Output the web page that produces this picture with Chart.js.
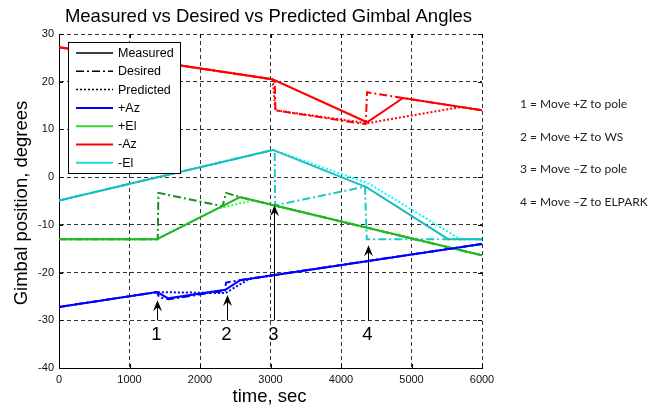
<!DOCTYPE html>
<html>
<head>
<meta charset="utf-8">
<title>Gimbal Angles</title>
<script src="https://cdn.jsdelivr.net/npm/chart.js@4.4.1/dist/chart.umd.min.js"></script>
<style>
  html, body { margin: 0; padding: 0; background: #fff; }
</style>
</head>
<body>
<canvas id="gimbalChart" width="651" height="408"></canvas>
<script>
// Gimbal traces as [time (s), angle (deg)] pairs
const plusAzMeasured  = [[0, -27.2], [1390, -24.1], [1550, -25.4], [2360, -23.6], [2570, -21.6], [6000, -14.0]];
const plusAzDesired   = [[0, -27.2], [1390, -24.1], [1420, -25.2], [1560, -25.6], [2350, -23.8], [2370, -22.1], [2600, -21.5], [6000, -14.0]];
const plusAzPredicted = [[0, -27.2], [1390, -24.1], [2360, -24.3], [2700, -21.3], [6000, -14.0]];

const plusElMeasured  = [[0, -13.0], [1390, -13.0], [2570, -4.2], [6000, -16.4]];
const plusElDesired   = [[0, -13.0], [1400, -13.0], [1410, -3.3], [2320, -6.1], [2370, -3.3], [2570, -4.2], [6000, -16.4]];
const plusElPredicted = [[0, -13.0], [1390, -13.0], [2250, -6.6], [2750, -4.85], [6000, -16.4]];

const minusAzMeasured  = [[0, 27.2], [3030, 20.5], [4370, 11.5], [4880, 16.6], [6000, 14.0]];
const minusAzDesired   = [[0, 27.2], [3030, 20.5], [3060, 20.3], [3070, 14.0], [4350, 11.1], [4370, 17.8], [4880, 16.6], [6000, 14.0]];
const minusAzPredicted = [[0, 27.2], [3030, 20.5], [3070, 14.0], [4370, 11.3], [5700, 14.7], [6000, 14.0]];

const minusElMeasured  = [[0, -4.9], [3035, 5.7], [4360, -2.1], [5520, -13.0], [6000, -13.0]];
const minusElDesired   = [[0, -4.9], [3035, 5.7], [3060, 5.5], [3065, -5.9], [4340, -2.0], [4365, -13.0], [6000, -13.0]];
const minusElPredicted = [[0, -4.9], [3035, 5.7], [4400, -1.4], [5690, -13.0], [6000, -13.0]];

// Event markers: arrow position, tip/tail angles, label
const eventTimes   = [1390, 2380, 3050, 4390];
const eventTipDeg  = [-25.8, -24.7, -5.9, -14.3];
const eventTailDeg = [-30, -30, -30, -30];
const eventLabelDeg = -33.1;
const eventLabels  = ['1', '2', '3', '4'];
const eventNotes   = ['1 = Move +Z to pole', '2 = Move +Z to WS', '3 = Move \u2013Z to pole', '4 = Move \u2013Z to ELPARK'];

const xTicks = [0, 1000, 2000, 3000, 4000, 5000, 6000];
const yTicks = [-40, -30, -20, -10, 0, 10, 20, 30];

const FONT = '"Liberation Sans", Arial, sans-serif';
const DASH = { solid: [], dashdot: [8, 3, 2, 3], dotted: [2, 2] };

const legendItems = [
  { text: 'Measured', color: '#000', dash: DASH.solid, width: 1.5 },
  { text: 'Desired', color: '#000', dash: DASH.dashdot, width: 1.5 },
  { text: 'Predicted', color: '#000', dash: DASH.dotted, width: 1.5 },
  { text: '+Az', color: '#0000ff', dash: DASH.solid, width: 2 },
  { text: '+El', color: '#33d633', dash: DASH.solid, width: 2 },
  { text: '-Az', color: '#ff0000', dash: DASH.solid, width: 2 },
  { text: '-El', color: '#1ed8d8', dash: DASH.solid, width: 2 }
];

function series(label, pts, color, style) {
  return {
    label: label,
    data: pts.map(p => ({ x: p[0], y: p[1] })),
    borderColor: color,
    backgroundColor: color,
    borderWidth: 2,
    borderDash: DASH[style],
    pointRadius: 0,
    tension: 0,
    fill: false
  };
}

// Title, axis labels, inward ticks, legend box, event arrows, notes
const decorations = {
  id: 'decorations',
  beforeDatasetsDraw(chart) {
    const { ctx, chartArea: ca, scales: { x, y } } = chart;
    ctx.save();
    ctx.strokeStyle = '#000';
    ctx.lineWidth = 1;
    ctx.beginPath();
    xTicks.forEach(t => {
      const px = Math.round(x.getPixelForValue(t)) + 0.5;
      ctx.moveTo(px, ca.bottom); ctx.lineTo(px, ca.bottom - 4);
      ctx.moveTo(px, ca.top); ctx.lineTo(px, ca.top + 4);
    });
    yTicks.forEach(v => {
      const py = Math.round(y.getPixelForValue(v)) + 0.5;
      ctx.moveTo(ca.left, py); ctx.lineTo(ca.left + 4, py);
      ctx.moveTo(ca.right, py); ctx.lineTo(ca.right - 4, py);
    });
    ctx.stroke();
    ctx.restore();
  },
  afterDatasetsDraw(chart) {
    const { ctx, chartArea: ca, scales: { x, y } } = chart;
    ctx.save();

    // event arrows
    ctx.strokeStyle = '#000';
    ctx.fillStyle = '#000';
    ctx.lineWidth = 1;
    eventTimes.forEach((t, i) => {
      const px = Math.round(x.getPixelForValue(t)) + 0.5;
      const tip = y.getPixelForValue(eventTipDeg[i]);
      const tail = y.getPixelForValue(eventTailDeg[i]);
      ctx.beginPath();
      ctx.moveTo(px, tip + 6);
      ctx.lineTo(px, tail);
      ctx.stroke();
      ctx.beginPath();
      ctx.moveTo(px, tip);
      ctx.lineTo(px - 4.5, tip + 11);
      ctx.lineTo(px, tip + 7);
      ctx.lineTo(px + 4.5, tip + 11);
      ctx.closePath();
      ctx.fill();
      ctx.font = '18.5px ' + FONT;
      ctx.textAlign = 'center';
      ctx.textBaseline = 'middle';
      ctx.fillText(eventLabels[i], px - 1, y.getPixelForValue(eventLabelDeg));
    });

    // legend box
    const lx = ca.left + 9, ly = ca.top + 8, lw = 112, lh = 131;
    ctx.fillStyle = '#fff';
    ctx.fillRect(lx, ly, lw, lh);
    ctx.strokeStyle = '#000';
    ctx.lineWidth = 1;
    ctx.setLineDash([]);
    ctx.strokeRect(lx + 0.5, ly + 0.5, lw, lh);
    ctx.font = '12.5px ' + FONT;
    ctx.textAlign = 'left';
    ctx.textBaseline = 'middle';
    legendItems.forEach((item, i) => {
      const ry = ly + 11 + i * 18.3;
      ctx.strokeStyle = item.color;
      ctx.lineWidth = item.width;
      ctx.setLineDash(item.dash);
      ctx.beginPath();
      ctx.moveTo(lx + 8, ry);
      ctx.lineTo(lx + 45, ry);
      ctx.stroke();
      ctx.fillStyle = '#000';
      ctx.fillText(item.text, lx + 50, ry + 0.5);
    });
    ctx.setLineDash([]);
    ctx.restore();
  },
  afterDraw(chart) {
    const { ctx, chartArea: ca } = chart;
    const cx = (ca.left + ca.right) / 2;
    ctx.save();
    ctx.fillStyle = '#000';
    ctx.textAlign = 'center';
    ctx.textBaseline = 'middle';
    ctx.font = '18.5px ' + FONT;
    ctx.fillText('Measured vs Desired vs Predicted Gimbal Angles', cx - 2, 17);
    ctx.fillText('time, sec', cx - 1, 397);

    ctx.save();
    ctx.translate(22, (ca.top + ca.bottom) / 2 + 2);
    ctx.rotate(-Math.PI / 2);
    ctx.fillText('Gimbal position, degrees', 0, 0);
    ctx.restore();

    // notes to the right of the plot
    ctx.fillStyle = '#222';
    ctx.textAlign = 'left';
    ctx.font = '12px Lato, "Open Sans", sans-serif';
    eventNotes.forEach((note, i) => {
      ctx.fillText(note, ca.right + 38, 104 + i * 32.7);
    });
    ctx.restore();
  }
};

const ctx = document.getElementById('gimbalChart').getContext('2d');

new Chart(ctx, {
  type: 'line',
  data: {
    datasets: [
      series('+Az Measured', plusAzMeasured, '#0000ff', 'solid'),
      series('+El Measured', plusElMeasured, '#22b822', 'solid'),
      series('-Az Measured', minusAzMeasured, '#ff0000', 'solid'),
      series('-El Measured', minusElMeasured, '#1ebcbc', 'solid'),
      series('+Az Desired', plusAzDesired, '#0000ff', 'dashdot'),
      series('+El Desired', plusElDesired, '#1e8c1e', 'dashdot'),
      series('-Az Desired', minusAzDesired, '#ff0000', 'dashdot'),
      series('-El Desired', minusElDesired, '#1ec8c8', 'dashdot'),
      series('+Az Predicted', plusAzPredicted, '#0000ff', 'dotted'),
      series('+El Predicted', plusElPredicted, '#33ff33', 'dotted'),
      series('-Az Predicted', minusAzPredicted, '#ff0000', 'dotted'),
      series('-El Predicted', minusElPredicted, '#00ffff', 'dotted')
    ]
  },
  options: {
    responsive: false,
    animation: false,
    devicePixelRatio: 1,
    layout: { padding: { top: 34, right: 169, left: 0, bottom: 0 } },
    plugins: {
      legend: { display: false },
      title: { display: false },
      tooltip: { enabled: false }
    },
    scales: {
      x: {
        type: 'linear',
        min: 0,
        max: 6000,
        afterBuildTicks: s => { s.ticks = xTicks.map(v => ({ value: v })); },
        afterFit: s => { s.height = 40; },
        ticks: { color: '#111', font: { family: FONT, size: 11 }, padding: 5, maxRotation: 0, callback: v => String(v) },
        grid: { color: '#333', lineWidth: 1, drawTicks: false },
        border: { display: true, color: '#000', width: 1, dash: [4, 3] }
      },
      y: {
        type: 'linear',
        min: -40,
        max: 30,
        afterBuildTicks: s => { s.ticks = yTicks.map(v => ({ value: v })); },
        afterFit: s => { s.width = 59; },
        ticks: { color: '#111', font: { family: FONT, size: 11 }, padding: 5, callback: v => String(v) },
        grid: { color: '#333', lineWidth: 1, drawTicks: false },
        border: { display: true, color: '#000', width: 1, dash: [4, 3] }
      }
    }
  },
  plugins: [decorations]
});
</script>
</body>
</html>
